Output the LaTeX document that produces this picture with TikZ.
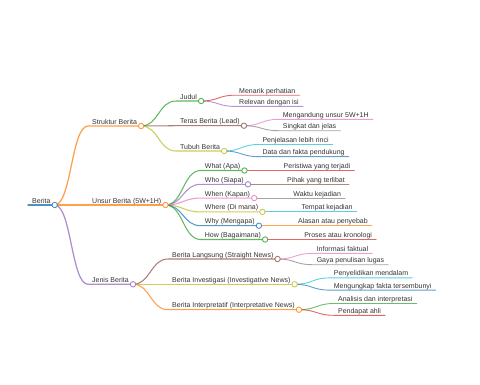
\documentclass[tikz,border=0pt]{standalone}
\usepackage{fontspec}
\setmainfont{Liberation Sans}
\usetikzlibrary{calc}
\definecolor{mmblue}{HTML}{1F77B4}
\definecolor{mmorange}{HTML}{FF7F0E}
\definecolor{mmgreen}{HTML}{2CA02C}
\definecolor{mmred}{HTML}{D62728}
\definecolor{mmpurple}{HTML}{9467BD}
\definecolor{mmbrown}{HTML}{8C564B}
\definecolor{mmpink}{HTML}{E377C2}
\definecolor{mmgray}{HTML}{7F7F7F}
\definecolor{mmolive}{HTML}{BCBD22}
\definecolor{mmcyan}{HTML}{17BECF}
\begin{document}
\begin{tikzpicture}[x=1pt, y=-1pt, line join=round, line cap=round,
	chu/.style={font=\fontsize{7}{8}\selectfont, text=black!80, inner sep=0pt, anchor=base west},
	lv0/.style={line width=1.5pt, draw opacity=0.8}, lv1/.style={line width=1.25pt, draw opacity=0.75},
	lv2/.style={line width=1.05pt, draw opacity=0.75}, lv3/.style={line width=0.9pt, draw opacity=0.7},
	nhanh/.style={to path={.. controls ($(\tikztostart)!0.5!(\tikztotarget |- \tikztostart)$) and ($(\tikztotarget)!0.5!(\tikztostart |- \tikztotarget)$) .. (\tikztotarget)}},
	cham/.style={fill=white, line width=0.9pt, draw opacity=0.8}]
	\useasboundingbox (0,0) rectangle (480,384);
	
	% ====== GOC: BERITA ======
	\coordinate (berita-s) at (28,205);
	\node[chu] (berita) at ($(berita-s)+(4,-2)$) {Berita};
	\coordinate (berita-e) at ($(berita.east |- berita-s)+(4,0)$);
	\draw[mmblue, lv0] (berita-s) -- (berita-e);
	
	% ====== NHANH 1: STRUKTUR BERITA ======
	\coordinate (struktur-s) at (88,126);
	\node[chu] (struktur) at ($(struktur-s)+(4,-2)$) {Struktur Berita};
	\coordinate (struktur-e) at ($(struktur.east |- struktur-s)+(4,0)$);
	\draw[mmorange, lv1] (berita-e) to[nhanh] (struktur-s) -- (struktur-e);
	
	% Judul
	\coordinate (judul-s) at (176,101);
	\node[chu] (judul) at ($(judul-s)+(4,-2)$) {Judul};
	\coordinate (judul-e) at ($(judul.east |- judul-s)+(4,0)$);
	\draw[mmgreen, lv2] (struktur-e) to[nhanh] (judul-s) -- (judul-e);
	\coordinate (menarik-s) at (235,95.2);
	\node[chu] (menarik) at ($(menarik-s)+(4,-2)$) {Menarik perhatian};
	\coordinate (menarik-e) at ($(menarik.east |- menarik-s)+(4,0)$);
	\draw[mmred, lv3] (judul-e) to[nhanh] (menarik-s) -- (menarik-e);
	\coordinate (relevan-s) at (235,106.4);
	\node[chu] (relevan) at ($(relevan-s)+(4,-2)$) {Relevan dengan isi};
	\coordinate (relevan-e) at ($(relevan.east |- relevan-s)+(4,0)$);
	\draw[mmpurple, lv3] (judul-e) to[nhanh] (relevan-s) -- (relevan-e);
	
	% Teras Berita (Lead)
	\coordinate (teras-s) at (176,125.7);
	\node[chu] (teras) at ($(teras-s)+(4,-2)$) {Teras Berita (Lead)};
	\coordinate (teras-e) at ($(teras.east |- teras-s)+(4,0)$);
	\draw[mmbrown, lv2] (struktur-e) to[nhanh] (teras-s) -- (teras-e);
	\coordinate (mengandung-s) at (278.7,119.3);
	\node[chu] (mengandung) at ($(mengandung-s)+(4,-2)$) {Mengandung unsur 5W+1H};
	\coordinate (mengandung-e) at ($(mengandung.east |- mengandung-s)+(4,0)$);
	\draw[mmpink, lv3] (teras-e) to[nhanh] (mengandung-s) -- (mengandung-e);
	\coordinate (singkat-s) at (278.7,130.7);
	\node[chu] (singkat) at ($(singkat-s)+(4,-2)$) {Singkat dan jelas};
	\coordinate (singkat-e) at ($(singkat.east |- singkat-s)+(4,0)$);
	\draw[mmgray, lv3] (teras-e) to[nhanh] (singkat-s) -- (singkat-e);
	
	% Tubuh Berita
	\coordinate (tubuh-s) at (176,151);
	\node[chu] (tubuh) at ($(tubuh-s)+(4,-2)$) {Tubuh Berita};
	\coordinate (tubuh-e) at ($(tubuh.east |- tubuh-s)+(4,0)$);
	\draw[mmolive, lv2] (struktur-e) to[nhanh] (tubuh-s) -- (tubuh-e);
	\coordinate (penjelasan-s) at (258.3,144.5);
	\node[chu] (penjelasan) at ($(penjelasan-s)+(4,-2)$) {Penjelasan lebih rinci};
	\coordinate (penjelasan-e) at ($(penjelasan.east |- penjelasan-s)+(4,0)$);
	\draw[mmcyan, lv3] (tubuh-e) to[nhanh] (penjelasan-s) -- (penjelasan-e);
	\coordinate (data-s) at (258.3,156.6);
	\node[chu] (data) at ($(data-s)+(4,-2)$) {Data dan fakta pendukung};
	\coordinate (data-e) at ($(data.east |- data-s)+(4,0)$);
	\draw[mmblue, lv3] (tubuh-e) to[nhanh] (data-s) -- (data-e);
	
	% ====== NHANH 2: UNSUR BERITA (5W+1H) ======
	\coordinate (unsur-s) at (88,205);
	\node[chu] (unsur) at ($(unsur-s)+(4,-2)$) {Unsur Berita (5W+1H)};
	\coordinate (unsur-e) at ($(unsur.east |- unsur-s)+(4,0)$);
	\draw[mmorange, lv1] (berita-e) to[nhanh] (unsur-s) -- (unsur-e);
	
	\coordinate (what-s) at (200.7,170.5);
	\node[chu] (what) at ($(what-s)+(4,-2)$) {What (Apa)};
	\coordinate (what-e) at ($(what.east |- what-s)+(4,0)$);
	\draw[mmgreen, lv2] (unsur-e) to[nhanh] (what-s) -- (what-e);
	\coordinate (peristiwa-s) at ($(what-e)+(35,0)$);
	\node[chu] (peristiwa) at ($(peristiwa-s)+(4,-2)$) {Peristiwa yang terjadi};
	\coordinate (peristiwa-e) at ($(peristiwa.east |- peristiwa-s)+(4,0)$);
	\draw[mmred, lv3] (what-e) -- (peristiwa-s) -- (peristiwa-e);
	
	\coordinate (who-s) at (200.7,184.3);
	\node[chu] (who) at ($(who-s)+(4,-2)$) {Who (Siapa)};
	\coordinate (who-e) at ($(who.east |- who-s)+(4,0)$);
	\draw[mmpurple, lv2] (unsur-e) to[nhanh] (who-s) -- (who-e);
	\coordinate (pihak-s) at ($(who-e)+(35,0)$);
	\node[chu] (pihak) at ($(pihak-s)+(4,-2)$) {Pihak yang terlibat};
	\coordinate (pihak-e) at ($(pihak.east |- pihak-s)+(4,0)$);
	\draw[mmbrown, lv3] (who-e) -- (pihak-s) -- (pihak-e);
	
	\coordinate (when-s) at (200.7,198.1);
	\node[chu] (when) at ($(when-s)+(4,-2)$) {When (Kapan)};
	\coordinate (when-e) at ($(when.east |- when-s)+(4,0)$);
	\draw[mmpink, lv2] (unsur-e) to[nhanh] (when-s) -- (when-e);
	\coordinate (waktu-s) at ($(when-e)+(35,0)$);
	\node[chu] (waktu) at ($(waktu-s)+(4,-2)$) {Waktu kejadian};
	\coordinate (waktu-e) at ($(waktu.east |- waktu-s)+(4,0)$);
	\draw[mmgray, lv3] (when-e) -- (waktu-s) -- (waktu-e);
	
	\coordinate (where-s) at (200.7,211.9);
	\node[chu] (where) at ($(where-s)+(4,-2)$) {Where (Di mana)};
	\coordinate (where-e) at ($(where.east |- where-s)+(4,0)$);
	\draw[mmolive, lv2] (unsur-e) to[nhanh] (where-s) -- (where-e);
	\coordinate (tempat-s) at ($(where-e)+(35,0)$);
	\node[chu] (tempat) at ($(tempat-s)+(4,-2)$) {Tempat kejadian};
	\coordinate (tempat-e) at ($(tempat.east |- tempat-s)+(4,0)$);
	\draw[mmcyan, lv3] (where-e) -- (tempat-s) -- (tempat-e);
	
	\coordinate (why-s) at (200.7,225.7);
	\node[chu] (why) at ($(why-s)+(4,-2)$) {Why (Mengapa)};
	\coordinate (why-e) at ($(why.east |- why-s)+(4,0)$);
	\draw[mmblue, lv2] (unsur-e) to[nhanh] (why-s) -- (why-e);
	\coordinate (alasan-s) at ($(why-e)+(35,0)$);
	\node[chu] (alasan) at ($(alasan-s)+(4,-2)$) {Alasan atau penyebab};
	\coordinate (alasan-e) at ($(alasan.east |- alasan-s)+(4,0)$);
	\draw[mmorange, lv3] (why-e) -- (alasan-s) -- (alasan-e);
	
	\coordinate (how-s) at (200.7,239.5);
	\node[chu] (how) at ($(how-s)+(4,-2)$) {How (Bagaimana)};
	\coordinate (how-e) at ($(how.east |- how-s)+(4,0)$);
	\draw[mmgreen, lv2] (unsur-e) to[nhanh] (how-s) -- (how-e);
	\coordinate (proses-s) at ($(how-e)+(35,0)$);
	\node[chu] (proses) at ($(proses-s)+(4,-2)$) {Proses atau kronologi};
	\coordinate (proses-e) at ($(proses.east |- proses-s)+(4,0)$);
	\draw[mmred, lv3] (how-e) -- (proses-s) -- (proses-e);
	
	% ====== NHANH 3: JENIS BERITA ======
	\coordinate (jenis-s) at (88,284.3);
	\node[chu] (jenis) at ($(jenis-s)+(4,-2)$) {Jenis Berita};
	\coordinate (jenis-e) at ($(jenis.east |- jenis-s)+(4,0)$);
	\draw[mmpurple, lv1] (berita-e) to[nhanh] (jenis-s) -- (jenis-e);
	
	% Berita Langsung
	\coordinate (langsung-s) at (168,259);
	\node[chu] (langsung) at ($(langsung-s)+(4,-2)$) {Berita Langsung (Straight News)};
	\coordinate (langsung-e) at ($(langsung.east |- langsung-s)+(4,0)$);
	\draw[mmbrown, lv2] (jenis-e) to[nhanh] (langsung-s) -- (langsung-e);
	\coordinate (informasi-s) at ($(langsung-e)+(35,-5.6)$);
	\node[chu] (informasi) at ($(informasi-s)+(4,-2)$) {Informasi faktual};
	\coordinate (informasi-e) at ($(informasi.east |- informasi-s)+(4,0)$);
	\draw[mmpink, lv3] (langsung-e) to[nhanh] (informasi-s) -- (informasi-e);
	\coordinate (gaya-s) at ($(langsung-e)+(35,5.7)$);
	\node[chu] (gaya) at ($(gaya-s)+(4,-2)$) {Gaya penulisan lugas};
	\coordinate (gaya-e) at ($(gaya.east |- gaya-s)+(4,0)$);
	\draw[mmgray, lv3] (langsung-e) to[nhanh] (gaya-s) -- (gaya-e);
	
	% Berita Investigasi
	\coordinate (investigasi-s) at (168,284.3);
	\node[chu] (investigasi) at ($(investigasi-s)+(4,-2)$) {Berita Investigasi (Investigative News)};
	\coordinate (investigasi-e) at ($(investigasi.east |- investigasi-s)+(4,0)$);
	\draw[mmolive, lv2] (jenis-e) to[nhanh] (investigasi-s) -- (investigasi-e);
	\coordinate (penyelidikan-s) at ($(investigasi-e)+(35,-6.4)$);
	\node[chu] (penyelidikan) at ($(penyelidikan-s)+(4,-2)$) {Penyelidikan mendalam};
	\coordinate (penyelidikan-e) at ($(penyelidikan.east |- penyelidikan-s)+(4,0)$);
	\draw[mmcyan, lv3] (investigasi-e) to[nhanh] (penyelidikan-s) -- (penyelidikan-e);
	\coordinate (mengungkap-s) at ($(investigasi-e)+(35,5.8)$);
	\node[chu] (mengungkap) at ($(mengungkap-s)+(4,-2)$) {Mengungkap fakta tersembunyi};
	\coordinate (mengungkap-e) at ($(mengungkap.east |- mengungkap-s)+(4,0)$);
	\draw[mmblue, lv3] (investigasi-e) to[nhanh] (mengungkap-s) -- (mengungkap-e);
	
	% Berita Interpretatif
	\coordinate (interpretatif-s) at (168,309.7);
	\node[chu] (interpretatif) at ($(interpretatif-s)+(4,-2)$) {Berita Interpretatif (Interpretative News)};
	\coordinate (interpretatif-e) at ($(interpretatif.east |- interpretatif-s)+(4,0)$);
	\draw[mmorange, lv2] (jenis-e) to[nhanh] (interpretatif-s) -- (interpretatif-e);
	\coordinate (analisis-s) at ($(interpretatif-e)+(35,-6.2)$);
	\node[chu] (analisis) at ($(analisis-s)+(4,-2)$) {Analisis dan interpretasi};
	\coordinate (analisis-e) at ($(analisis.east |- analisis-s)+(4,0)$);
	\draw[mmgreen, lv3] (interpretatif-e) to[nhanh] (analisis-s) -- (analisis-e);
	\coordinate (pendapat-s) at ($(interpretatif-e)+(35,5.6)$);
	\node[chu] (pendapat) at ($(pendapat-s)+(4,-2)$) {Pendapat ahli};
	\coordinate (pendapat-e) at ($(pendapat.east |- pendapat-s)+(4,0)$);
	\draw[mmred, lv3] (interpretatif-e) to[nhanh] (pendapat-s) -- (pendapat-e);
	
	% ====== CHAM TRON O CUOI NHANH ======
	\draw[mmblue, cham] (berita-e) circle[radius=2.7];
	\draw[mmorange, cham] (struktur-e) circle[radius=2.7]; \draw[mmorange, cham] (unsur-e) circle[radius=2.7]; \draw[mmpurple, cham] (jenis-e) circle[radius=2.7];
	\draw[mmgreen, cham] (judul-e) circle[radius=2.7]; \draw[mmbrown, cham] (teras-e) circle[radius=2.7]; \draw[mmolive, cham] (tubuh-e) circle[radius=2.7];
	\draw[mmgreen, cham] (what-e) circle[radius=2.7]; \draw[mmpurple, cham] (who-e) circle[radius=2.7]; \draw[mmpink, cham] (when-e) circle[radius=2.7];
	\draw[mmolive, cham] (where-e) circle[radius=2.7]; \draw[mmblue, cham] (why-e) circle[radius=2.7]; \draw[mmgreen, cham] (how-e) circle[radius=2.7];
	\draw[mmbrown, cham] (langsung-e) circle[radius=2.7]; \draw[mmolive, cham] (investigasi-e) circle[radius=2.7]; \draw[mmorange, cham] (interpretatif-e) circle[radius=2.7];
\end{tikzpicture}
\end{document}
